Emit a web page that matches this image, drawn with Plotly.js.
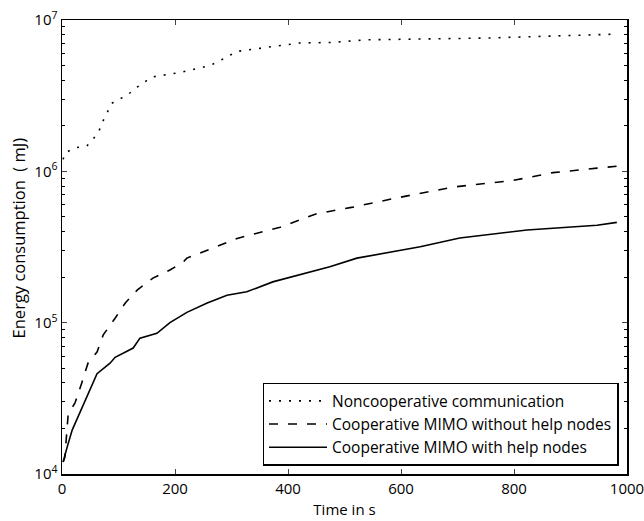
<!DOCTYPE html>
<html><head><meta charset="utf-8">
<script src="https://cdn.plot.ly/plotly-3.0.1.min.js"></script>
<style>html,body{margin:0;padding:0;background:#fff}</style>
</head><body>
<div id="chart" style="width:644px;height:521px"></div>
<script>
const seriesNames = ["Noncooperative communication", "Cooperative MIMO without help nodes", "Cooperative MIMO with help nodes"];

const nonCoopT = [2, 5, 23, 44, 64, 71, 88, 115, 133, 159, 209, 262, 280, 310, 363, 421, 474, 540, 752, 982];
const nonCoopE = [1.2e6, 1.32e6, 1.43e6, 1.47e6, 1.79e6, 2.09e6, 2.82e6, 3.18e6, 3.6e6, 4.2e6, 4.5e6, 5.0e6, 5.4e6, 6.2e6, 6.6e6, 7.05e6, 7.1e6, 7.4e6, 7.6e6, 8.07e6];

const coopNoHelpT = [2, 5, 11, 23, 35, 46, 62, 73, 94, 112, 133, 161, 191, 214, 221, 280, 310, 345, 386, 451, 515, 586, 692, 798, 869, 947, 982];
const coopNoHelpE = [1.2e4, 1.29e4, 2.5e4, 2.95e4, 4.0e4, 5.4e4, 6.4e4, 8.3e4, 1.07e5, 1.35e5, 1.64e5, 1.97e5, 2.23e5, 2.5e5, 2.67e5, 3.26e5, 3.6e5, 3.9e5, 4.27e5, 5.25e5, 5.8e5, 6.6e5, 7.87e5, 8.7e5, 9.8e5, 1.05e6, 1.08e6];

const coopHelpT = [2, 4, 9, 18, 28, 44, 62, 85, 94, 126, 138, 168, 191, 221, 257, 292, 327, 373, 421, 474, 522, 634, 704, 823, 947, 982];
const coopHelpE = [1.2e4, 1.29e4, 1.5e4, 1.95e4, 2.38e4, 3.2e4, 4.6e4, 5.4e4, 5.9e4, 6.8e4, 7.9e4, 8.5e4, 1.0e5, 1.17e5, 1.35e5, 1.52e5, 1.6e5, 1.86e5, 2.07e5, 2.34e5, 2.67e5, 3.17e5, 3.63e5, 4.1e5, 4.4e5, 4.6e5];

const xTickVals = [0, 200, 400, 600, 800, 1000];
const yTickVals = [1e4, 1e5, 1e6, 1e7];
const yTickText = ["10<sup>4</sup>", "10<sup>5</sup>", "10<sup>6</sup>", "10<sup>7</sup>"];
const xTitle = "Time in s";
const yTitle = "Energy consumption \u00a0( mJ)";

// minor log ticks 2..9 within each decade
const yMinor = [];
for (let d = 4; d < 7; d++) for (let k = 2; k <= 9; k++) yMinor.push(k * Math.pow(10, d));

const font = "Open Sans, Noto Sans, sans-serif";

const traces = [
  {x: nonCoopT, y: nonCoopE, name: seriesNames[0], mode: "lines",
   line: {color: "#000", width: 1.6, dash: "2px,8px"}},
  {x: coopNoHelpT, y: coopNoHelpE, name: seriesNames[1], mode: "lines",
   line: {color: "#000", width: 1.6, dash: "9px,10px"}},
  {x: coopHelpT, y: coopHelpE, name: seriesNames[2], mode: "lines",
   line: {color: "#000", width: 1.6}}
];

const layout = {
  width: 644, height: 521,
  margin: {l: 62, r: 17, t: 20, b: 47},
  paper_bgcolor: "#fff", plot_bgcolor: "#fff",
  font: {family: font, size: 14, color: "#000"},
  showlegend: true,
  legend: {
    x: 0.985, y: 0.018, xanchor: "right", yanchor: "bottom",
    bordercolor: "#000", borderwidth: 1.5, bgcolor: "#fff",
    font: {family: font, size: 15.5, color: "#000"},
    itemwidth: 58, tracegroupgap: 0
  },
  xaxis: {
    range: [0, 1000], tickvals: xTickVals, ticks: "inside", ticklen: 5,
    mirror: "ticks", showline: true, linecolor: "#000", linewidth: 1.5,
    showgrid: false, zeroline: false, ticklabeloverflow: "allow",
    tickfont: {family: font, size: 15},
    title: {text: xTitle, font: {family: font, size: 15}, standoff: 8}
  },
  yaxis: {
    type: "log", range: [4, 7], tickvals: yTickVals, ticktext: yTickText,
    ticks: "inside", ticklen: 5,
    mirror: "ticks", showline: true, linecolor: "#000", linewidth: 1.5,
    showgrid: false, zeroline: false, ticklabeloverflow: "allow",
    tickfont: {family: font, size: 15},
    minor: {tickvals: yMinor, ticks: "inside", ticklen: 3, tickcolor: "#000", showgrid: false}
  },
  annotations: [{
    text: yTitle, textangle: -90, showarrow: false,
    xref: "paper", yref: "paper", x: -0.077, y: 0.52,
    xanchor: "center", yanchor: "middle",
    font: {family: font, size: 16.5, color: "#000"}
  }]
};

Plotly.newPlot("chart", traces, layout, {staticPlot: true, displayModeBar: false});
</script>
</body></html>
